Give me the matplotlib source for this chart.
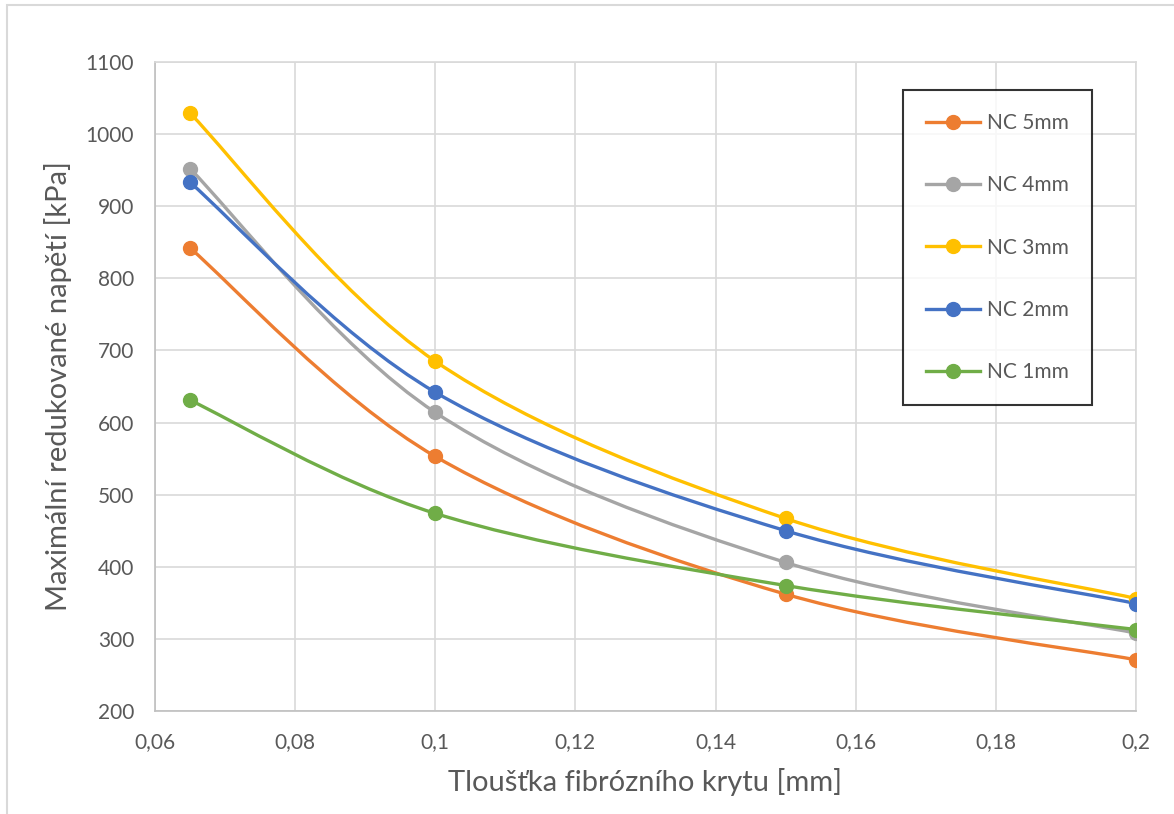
import matplotlib
matplotlib.use("Agg")
import matplotlib.pyplot as plt
from matplotlib.path import Path
from matplotlib.patches import PathPatch, Rectangle
from matplotlib.lines import Line2D
from matplotlib.ticker import FuncFormatter, MultipleLocator

# Data
thickness = [0.065, 0.1, 0.15, 0.2]
nc5 = [842, 553, 362, 271]
nc4 = [952, 614, 406, 308]
nc3 = [1029, 685, 467, 356]
nc2 = [933, 642, 450, 349]
nc1 = [631, 474, 374, 313]

labels = ["NC 5mm", "NC 4mm", "NC 3mm", "NC 2mm", "NC 1mm"]
series = [nc5, nc4, nc3, nc2, nc1]
colors = ["#ED7D31", "#A5A5A5", "#FFC000", "#4472C4", "#70AD47"]

plt.rcParams["font.family"] = ["Lato", "DejaVu Sans"]
text_color = "#595959"


def smooth_path(xs, ys):
    # Catmull-Rom style Bezier smoothing, like Excel's smoothed lines
    pts = list(zip(xs, ys))
    n = len(pts)
    verts = [pts[0]]
    codes = [Path.MOVETO]
    for i in range(n - 1):
        p0 = pts[i - 1] if i > 0 else pts[i]
        p1 = pts[i]
        p2 = pts[i + 1]
        p3 = pts[i + 2] if i + 2 < n else pts[i + 1]
        c1 = (p1[0] + (p2[0] - p0[0]) / 6, p1[1] + (p2[1] - p0[1]) / 6)
        c2 = (p2[0] - (p3[0] - p1[0]) / 6, p2[1] - (p3[1] - p1[1]) / 6)
        verts += [c1, c2, p2]
        codes += [Path.CURVE4] * 3
    return Path(verts, codes)


fig = plt.figure(figsize=(11.74, 8.14), dpi=100)
ax = fig.add_axes([155 / 1174, 1 - 711 / 814, (1136 - 155) / 1174, (711 - 62) / 814])

for vals, lab, col in zip(series, labels, colors):
    ax.add_patch(PathPatch(smooth_path(thickness, vals), facecolor="none",
                           edgecolor=col, lw=2.4, capstyle="round", zorder=3))
    ax.plot(thickness, vals, linestyle="none", marker="o", markersize=10,
            color=col, zorder=4)

ax.set_xlim(0.06, 0.2)
ax.set_ylim(200, 1100)
ax.xaxis.set_major_locator(MultipleLocator(0.02))
ax.yaxis.set_major_locator(MultipleLocator(100))
ax.xaxis.set_major_formatter(FuncFormatter(lambda v, p: f"{v:g}".replace(".", ",")))
ax.grid(True, color="#D9D9D9", lw=1.2, zorder=0)
ax.set_axisbelow(True)
for s in ax.spines.values():
    s.set_color("#D9D9D9")
    s.set_linewidth(1.2)
ax.spines["left"].set_color("#BFBFBF")
ax.spines["bottom"].set_color("#BFBFBF")
ax.tick_params(length=0, labelsize=15, colors=text_color, pad=15)
ax.tick_params(axis="x", pad=15)

ax.set_xlabel("Tloušťka fibrózního krytu [mm]", fontsize=21, color=text_color, labelpad=12)
ax.set_ylabel("Maximální redukované napětí [kPa]", fontsize=21, color=text_color, labelpad=10)

handles = [Line2D([], [], color=c, lw=2.4, marker="o", markersize=10) for c in colors]
leg = ax.legend(handles, labels, loc="upper left",
                bbox_to_anchor=((903 - 155) / 981, 1 - (90 - 62) / 649),
                frameon=True, fancybox=False, fontsize=15, labelspacing=2.03,
                borderpad=1.1, handlelength=2.6, handletextpad=0.35,
                borderaxespad=0, labelcolor=text_color)
leg.get_frame().set_edgecolor("black")
leg.get_frame().set_linewidth(1.5)

# light outer chart border
fig.add_artist(Rectangle((7 / 1174, -0.01), 1.0, 1 - 5 / 814 + 0.01,
                         transform=fig.transFigure, fill=False,
                         edgecolor="#D9D9D9", lw=1.5))

fig.savefig("out.png", dpi=100)
